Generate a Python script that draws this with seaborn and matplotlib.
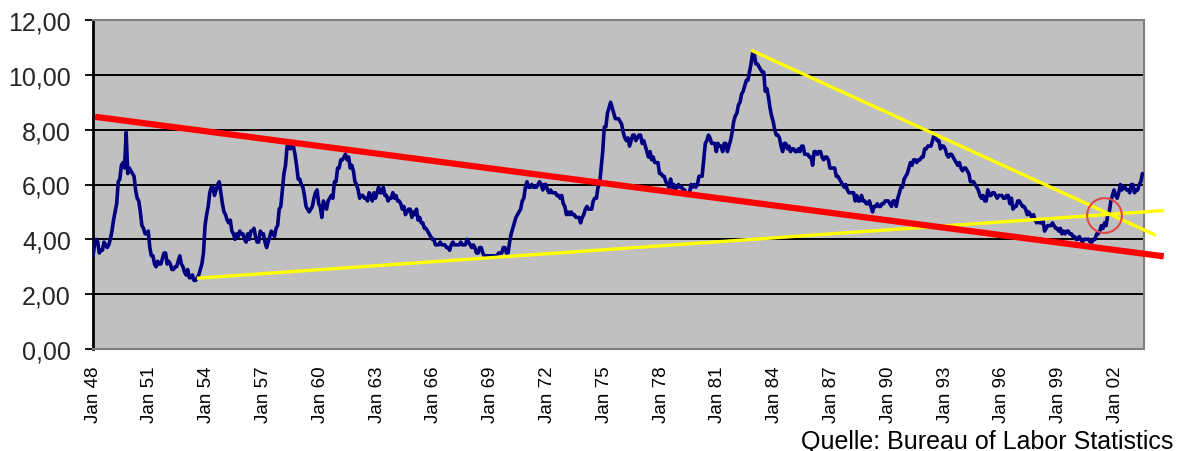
import numpy as np
import pandas as pd
import matplotlib
matplotlib.use("Agg")
import matplotlib.pyplot as plt
from matplotlib.ticker import FuncFormatter, FixedLocator
import seaborn as sns

# Monthly US unemployment rate (%), Jan 1948 - Jun 2003
rate_1948_1952 = [
    3.4, 3.8, 4.0, 3.9, 3.5, 3.6, 3.6, 3.9, 3.8, 3.7, 3.8, 4.0,
    4.3, 4.7, 5.0, 5.3, 6.1, 6.2, 6.7, 6.8, 6.6, 7.9, 6.4, 6.6,
    6.5, 6.4, 6.3, 5.8, 5.5, 5.4, 5.0, 4.5, 4.4, 4.2, 4.2, 4.3,
    3.7, 3.4, 3.4, 3.1, 3.0, 3.2, 3.1, 3.1, 3.3, 3.5, 3.5, 3.1,
    3.2, 3.1, 2.9, 2.9, 3.0, 3.0, 3.2, 3.4, 3.1, 3.0, 2.8, 2.7,
]
rate_1953_1957 = [
    2.9, 2.6, 2.6, 2.7, 2.5, 2.5, 2.6, 2.7, 2.9, 3.1, 3.5, 4.5,
    4.9, 5.2, 5.7, 5.9, 5.9, 5.6, 5.8, 6.0, 6.1, 5.7, 5.3, 5.0,
    4.9, 4.7, 4.6, 4.7, 4.3, 4.2, 4.0, 4.2, 4.1, 4.3, 4.2, 4.2,
    4.0, 3.9, 4.2, 4.0, 4.3, 4.3, 4.4, 4.1, 3.9, 3.9, 4.3, 4.2,
    4.2, 3.9, 3.7, 3.9, 4.1, 4.3, 4.2, 4.1, 4.4, 4.5, 5.1, 5.2,
]
rate_1958_1962 = [
    5.8, 6.4, 6.7, 7.4, 7.4, 7.3, 7.5, 7.4, 7.1, 6.7, 6.2, 6.2,
    6.0, 5.9, 5.6, 5.2, 5.1, 5.0, 5.1, 5.2, 5.5, 5.7, 5.8, 5.3,
    5.2, 4.8, 5.4, 5.2, 5.1, 5.4, 5.5, 5.6, 5.5, 6.1, 6.1, 6.6,
    6.6, 6.9, 6.9, 7.0, 7.1, 6.9, 7.0, 6.6, 6.7, 6.5, 6.1, 6.0,
    5.8, 5.5, 5.6, 5.6, 5.5, 5.5, 5.4, 5.7, 5.6, 5.4, 5.7, 5.5,
]
rate_1963_1967 = [
    5.7, 5.9, 5.7, 5.7, 5.9, 5.6, 5.6, 5.4, 5.5, 5.5, 5.7, 5.5,
    5.6, 5.4, 5.4, 5.3, 5.1, 5.2, 4.9, 5.0, 5.1, 5.1, 4.8, 5.0,
    4.9, 5.1, 4.7, 4.8, 4.6, 4.6, 4.4, 4.4, 4.3, 4.2, 4.1, 4.0,
    4.0, 3.8, 3.8, 3.8, 3.9, 3.8, 3.8, 3.8, 3.7, 3.7, 3.6, 3.8,
    3.9, 3.8, 3.8, 3.8, 3.8, 3.9, 3.8, 3.8, 3.8, 4.0, 3.9, 3.8,
]
rate_1968_1972 = [
    3.7, 3.8, 3.7, 3.5, 3.5, 3.7, 3.7, 3.5, 3.4, 3.4, 3.4, 3.4,
    3.4, 3.4, 3.4, 3.4, 3.4, 3.5, 3.5, 3.5, 3.7, 3.7, 3.5, 3.5,
    3.9, 4.2, 4.4, 4.6, 4.8, 4.9, 5.0, 5.1, 5.4, 5.5, 5.9, 6.1,
    5.9, 5.9, 6.0, 5.9, 5.9, 5.9, 6.0, 6.1, 6.0, 5.8, 6.0, 6.0,
    5.8, 5.7, 5.8, 5.7, 5.7, 5.7, 5.6, 5.6, 5.5, 5.6, 5.3, 5.2,
]
rate_1973_1977 = [
    4.9, 5.0, 4.9, 5.0, 4.9, 4.9, 4.8, 4.8, 4.8, 4.6, 4.8, 4.9,
    5.1, 5.2, 5.1, 5.1, 5.1, 5.4, 5.5, 5.5, 5.9, 6.0, 6.6, 7.2,
    8.1, 8.1, 8.6, 8.8, 9.0, 8.8, 8.6, 8.4, 8.4, 8.4, 8.3, 8.2,
    7.9, 7.7, 7.6, 7.7, 7.4, 7.6, 7.8, 7.8, 7.6, 7.7, 7.8, 7.8,
    7.5, 7.6, 7.4, 7.2, 7.0, 7.2, 6.9, 7.0, 6.8, 6.8, 6.8, 6.4,
]
rate_1978_1982 = [
    6.4, 6.3, 6.3, 6.1, 6.0, 5.9, 6.2, 5.9, 6.0, 5.8, 5.9, 6.0,
    5.9, 5.9, 5.8, 5.8, 5.6, 5.7, 5.7, 6.0, 5.9, 6.0, 5.9, 6.0,
    6.3, 6.3, 6.3, 6.9, 7.5, 7.6, 7.8, 7.7, 7.5, 7.5, 7.5, 7.2,
    7.5, 7.4, 7.4, 7.2, 7.5, 7.5, 7.2, 7.4, 7.6, 7.9, 8.3, 8.5,
    8.6, 8.9, 9.0, 9.3, 9.4, 9.6, 9.8, 9.8, 10.1, 10.4, 10.8, 10.8,
]
rate_1983_1987 = [
    10.4, 10.4, 10.3, 10.2, 10.1, 10.1, 9.4, 9.5, 9.2, 8.8, 8.5, 8.3,
    8.0, 7.8, 7.8, 7.7, 7.4, 7.2, 7.5, 7.5, 7.3, 7.4, 7.2, 7.3,
    7.3, 7.2, 7.2, 7.3, 7.2, 7.4, 7.4, 7.1, 7.1, 7.1, 7.0, 7.0,
    6.7, 7.2, 7.2, 7.1, 7.2, 7.2, 7.0, 6.9, 7.0, 7.0, 6.9, 6.6,
    6.6, 6.6, 6.6, 6.3, 6.3, 6.2, 6.1, 6.0, 5.9, 6.0, 5.8, 5.7,
]
rate_1988_1992 = [
    5.7, 5.7, 5.7, 5.4, 5.6, 5.4, 5.4, 5.6, 5.4, 5.4, 5.3, 5.3,
    5.4, 5.2, 5.0, 5.2, 5.2, 5.3, 5.2, 5.2, 5.3, 5.3, 5.4, 5.4,
    5.4, 5.3, 5.2, 5.4, 5.4, 5.2, 5.5, 5.7, 5.9, 5.9, 6.2, 6.3,
    6.4, 6.6, 6.8, 6.7, 6.9, 6.9, 6.8, 6.9, 6.9, 7.0, 7.0, 7.3,
    7.3, 7.4, 7.4, 7.4, 7.6, 7.8, 7.7, 7.6, 7.6, 7.3, 7.4, 7.4,
]
rate_1993_1997 = [
    7.3, 7.1, 7.0, 7.1, 7.1, 7.0, 6.9, 6.8, 6.7, 6.8, 6.6, 6.5,
    6.6, 6.6, 6.5, 6.4, 6.1, 6.1, 6.1, 6.0, 5.9, 5.8, 5.6, 5.5,
    5.6, 5.4, 5.4, 5.8, 5.6, 5.6, 5.7, 5.7, 5.6, 5.5, 5.6, 5.6,
    5.6, 5.5, 5.5, 5.6, 5.6, 5.3, 5.5, 5.1, 5.2, 5.2, 5.4, 5.4,
    5.3, 5.2, 5.2, 5.1, 4.9, 5.0, 4.9, 4.8, 4.9, 4.7, 4.6, 4.7,
]
rate_1998_2003 = [
    4.6, 4.6, 4.7, 4.3, 4.4, 4.5, 4.5, 4.5, 4.6, 4.5, 4.4, 4.4,
    4.3, 4.4, 4.2, 4.3, 4.2, 4.3, 4.3, 4.2, 4.2, 4.1, 4.1, 4.0,
    4.0, 4.1, 4.0, 3.9, 4.0, 4.0, 4.0, 4.0, 3.9, 3.9, 4.0, 4.0,
    4.2, 4.2, 4.3, 4.5, 4.4, 4.6, 4.5, 4.9, 5.0, 5.4, 5.6, 5.8,
    5.6, 5.5, 5.7, 6.0, 5.8, 5.9, 5.9, 5.8, 5.8, 5.7, 6.0, 6.0,
    5.7, 5.8, 5.8, 6.0, 6.1, 6.4,
]

tick_labels = ["Jan 48", "Jan 51", "Jan 54", "Jan 57", "Jan 60", "Jan 63",
               "Jan 66", "Jan 69", "Jan 72", "Jan 75", "Jan 78", "Jan 81",
               "Jan 84", "Jan 87", "Jan 90", "Jan 93", "Jan 96", "Jan 99",
               "Jan 02"]
y_ticks = [0, 2, 4, 6, 8, 10, 12]

# Hand-drawn trend lines (month index, rate)
red_trend_x = [1.3, 678.5]
red_trend_y = [8.47, 3.38]
yellow_low_x = [65.8, 678.5]
yellow_low_y = [2.58, 5.05]
yellow_high_x = [417.0, 673.4]
yellow_high_y = [10.90, 4.15]
circle_x = [640.5]
circle_y = [4.87]

source_text = "Quelle: Bureau of Labor Statistics"

rates = (rate_1948_1952 + rate_1953_1957 + rate_1958_1962 + rate_1963_1967 +
         rate_1968_1972 + rate_1973_1977 + rate_1978_1982 + rate_1983_1987 +
         rate_1988_1992 + rate_1993_1997 + rate_1998_2003)
df = pd.DataFrame({"month": np.arange(len(rates)), "rate": rates})

sns.set_style("white")
plt.rcParams["font.family"] = ["Liberation Sans", "DejaVu Sans"]

fig = plt.figure(figsize=(11.84, 4.52), dpi=100)
ax = fig.add_axes([93 / 1184, 1 - 350 / 452, (1144 - 93) / 1184, (350 - 21) / 452])
ax.set_facecolor("#C0C0C0")

for v in y_ticks[1:-1]:
    ax.axhline(v, color="black", linewidth=1.4, zorder=1)

sns.lineplot(data=df, x="month", y="rate", ax=ax, color="#000080",
             linewidth=2.6, zorder=3)

ax.plot(yellow_low_x, yellow_low_y, color="#FFFF00", linewidth=2.4,
        clip_on=False, zorder=4, solid_capstyle="butt")
ax.plot(yellow_high_x, yellow_high_y, color="#FFFF00", linewidth=2.4,
        clip_on=False, zorder=4, solid_capstyle="butt")
ax.plot(red_trend_x, red_trend_y, color="#FF0000", linewidth=4.5,
        clip_on=False, zorder=5, solid_capstyle="butt")
ax.plot(circle_x, circle_y, marker="o", markersize=25, markerfacecolor="none",
        markeredgecolor="#E04848", markeredgewidth=1.5, linestyle="none",
        clip_on=False, zorder=6)

ax.set_xlim(0, 666)
ax.set_ylim(0, 12)
ax.xaxis.set_major_locator(FixedLocator([36 * i for i in range(len(tick_labels))]))
ax.set_xticklabels(tick_labels, rotation=90, fontsize=13.5, color="black")
ax.yaxis.set_major_locator(FixedLocator(y_ticks))
ax.yaxis.set_major_formatter(FuncFormatter(lambda v, p: f"{v:.2f}".replace(".", ",")))
ax.tick_params(axis="y", labelsize=18, length=6, width=1.3, color="black",
               direction="out", pad=10, left=True)
ax.tick_params(axis="x", length=0, pad=12)
ax.set_xlabel("")
ax.set_ylabel("")

for side in ["top", "right", "bottom"]:
    ax.spines[side].set_color("#808080")
    ax.spines[side].set_linewidth(1.5)
ax.spines["left"].set_color("black")
ax.spines["left"].set_linewidth(2)

fig.text(1173 / 1184, (452 - 449) / 452, source_text, ha="right", va="baseline",
         fontsize=18, color="black")

fig.savefig("out.png", dpi=100, facecolor="white")
